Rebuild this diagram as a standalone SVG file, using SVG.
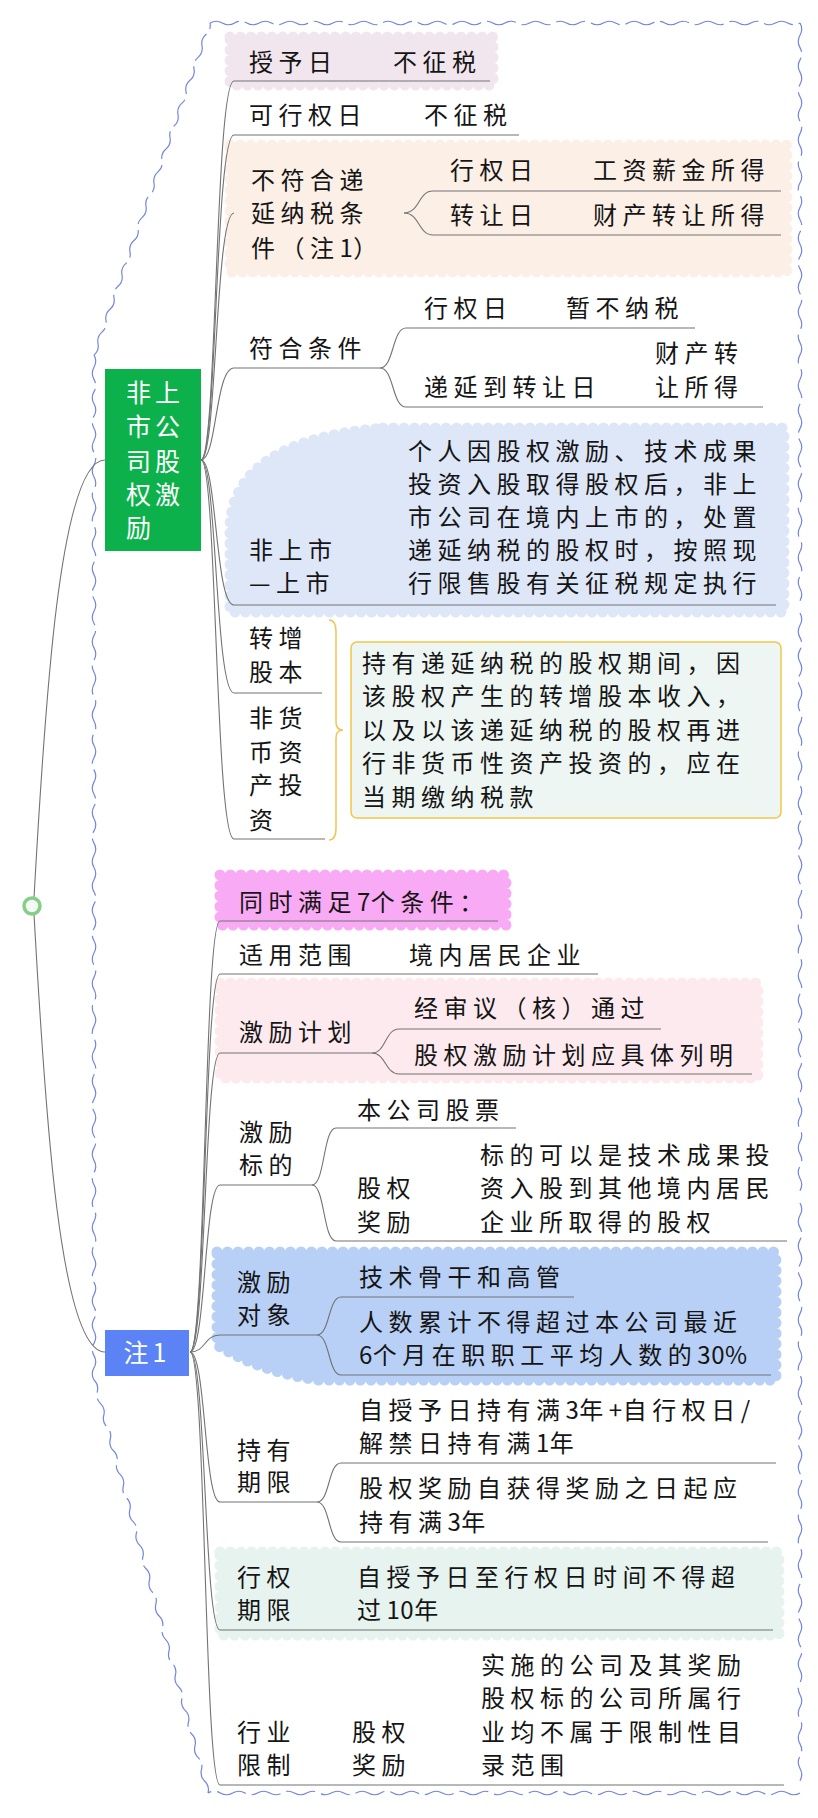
<svg xmlns="http://www.w3.org/2000/svg" width="818" height="1818" viewBox="0 0 818 1818">
<style>
.t{font-family:"Noto Sans CJK SC","Noto Sans",sans-serif;font-size:24px;letter-spacing:5.5px;fill:#151515}
.w{font-family:"Noto Sans CJK SC","Noto Sans",sans-serif;font-size:25px;letter-spacing:4px;fill:#ffffff}
.d{letter-spacing:0.5px}
.c{fill:none;stroke:#737373;stroke-width:1.1}
.sc{stroke-width:11;stroke-dasharray:0 10.5;stroke-linecap:round;stroke-linejoin:round}
.bd{fill:none;stroke:#7385e0;stroke-width:1.2;stroke-dasharray:30 6}
</style>
<rect width="818" height="1818" fill="#ffffff"/>
<g id="border">
<path class="bd" d="M94,355 q5.30,-4.57 4,-11.448t4,-11.448t4,-11.448t4,-11.448t4,-11.448t4,-11.448t4,-11.448t4,-11.448t4,-11.448t4,-11.448t4,-11.448t4,-11.448t4,-11.448t4,-11.448t4,-11.448t4,-11.448t4,-11.448t4,-11.448t4,-11.448t4,-11.448t4,-11.448t4,-11.448t4,-11.448t4,-11.448t4,-11.448t4,-11.448t4,-11.448t4,-11.448t4,-11.448"/>
<path class="bd" d="M210,23 q6.146,-3.5 12.292,0t12.292,0t12.292,0t12.292,0t12.292,0t12.292,0t12.292,0t12.292,0t12.292,0t12.292,0t12.292,0t12.292,0t12.292,0t12.292,0t12.292,0t12.292,0t12.292,0t12.292,0t12.292,0t12.292,0t12.292,0t12.292,0t12.292,0t12.292,0t12.292,0t12.292,0t12.292,0t12.292,0t12.292,0t12.292,0t12.292,0t12.292,0t12.292,0t12.292,0t12.292,0t12.292,0t12.292,0t12.292,0t12.292,0t12.292,0t12.292,0t12.292,0t12.292,0t12.292,0t12.292,0t12.292,0t12.292,0t12.292,0"/>
<path class="bd" d="M800,23 q3.5,6.146 0,12.292t0,12.292t0,12.292t0,12.292t0,12.292t0,12.292t0,12.292t0,12.292t0,12.292t0,12.292t0,12.292t0,12.292t0,12.292t0,12.292t0,12.292t0,12.292t0,12.292t0,12.292t0,12.292t0,12.292t0,12.292t0,12.292t0,12.292t0,12.292t0,12.292t0,12.292t0,12.292t0,12.292t0,12.292t0,12.292t0,12.292t0,12.292t0,12.292t0,12.292t0,12.292t0,12.292t0,12.292t0,12.292t0,12.292t0,12.292t0,12.292t0,12.292t0,12.292t0,12.292t0,12.292t0,12.292t0,12.292"/>
<path class="bd" d="M800,613 q3.5,6.146 0,12.292t0,12.292t0,12.292t0,12.292t0,12.292t0,12.292t0,12.292t0,12.292t0,12.292t0,12.292t0,12.292t0,12.292t0,12.292t0,12.292t0,12.292t0,12.292t0,12.292t0,12.292t0,12.292t0,12.292t0,12.292t0,12.292t0,12.292t0,12.292t0,12.292t0,12.292t0,12.292t0,12.292t0,12.292t0,12.292t0,12.292t0,12.292t0,12.292t0,12.292t0,12.292t0,12.292t0,12.292t0,12.292t0,12.292t0,12.292t0,12.292t0,12.292t0,12.292t0,12.292t0,12.292t0,12.292t0,12.292"/>
<path class="bd" d="M800,1203 q3.5,6.146 0,12.292t0,12.292t0,12.292t0,12.292t0,12.292t0,12.292t0,12.292t0,12.292t0,12.292t0,12.292t0,12.292t0,12.292t0,12.292t0,12.292t0,12.292t0,12.292t0,12.292t0,12.292t0,12.292t0,12.292t0,12.292t0,12.292t0,12.292t0,12.292t0,12.292t0,12.292t0,12.292t0,12.292t0,12.292t0,12.292t0,12.292t0,12.292t0,12.292t0,12.292t0,12.292t0,12.292t0,12.292t0,12.292t0,12.292t0,12.292t0,12.292t0,12.292t0,12.292t0,12.292t0,12.292t0,12.292t0,12.292"/>
<path class="bd" d="M800,1793 q-6.167,3.5 -12.333,0t-12.333,0t-12.333,0t-12.333,0t-12.333,0t-12.333,0t-12.333,0t-12.333,0t-12.333,0t-12.333,0t-12.333,0t-12.333,0t-12.333,0t-12.333,0t-12.333,0t-12.333,0t-12.333,0t-12.333,0t-12.333,0t-12.333,0t-12.333,0t-12.333,0t-12.333,0t-12.333,0t-12.333,0t-12.333,0t-12.333,0t-12.333,0t-12.333,0t-12.333,0t-12.333,0t-12.333,0t-12.333,0t-12.333,0t-12.333,0t-12.333,0t-12.333,0t-12.333,0t-12.333,0t-12.333,0t-12.333,0t-12.333,0t-12.333,0t-12.333,0t-12.333,0t-12.333,0t-12.333,0t-12.333,0"/>
<path class="bd" d="M208,1793 q1.745,-6.831 -3.257,-11.8t-3.257,-11.8t-3.257,-11.8t-3.257,-11.8t-3.257,-11.8t-3.257,-11.8t-3.257,-11.8t-3.257,-11.8t-3.257,-11.8t-3.257,-11.8t-3.257,-11.8t-3.257,-11.8t-3.257,-11.8t-3.257,-11.8t-3.257,-11.8t-3.257,-11.8t-3.257,-11.8t-3.257,-11.8t-3.257,-11.8t-3.257,-11.8t-3.257,-11.8t-3.257,-11.8t-3.257,-11.8t-3.257,-11.8t-3.257,-11.8t-3.257,-11.8t-3.257,-11.8t-3.257,-11.8t-3.257,-11.8t-3.257,-11.8t-3.257,-11.8t-3.257,-11.8t-3.257,-11.8t-3.257,-11.8t-3.257,-11.8"/>
<path class="bd" d="M94,1380 q-3.5,-6.101 0,-12.202t0,-12.202t0,-12.202t0,-12.202t0,-12.202t0,-12.202t0,-12.202t0,-12.202t0,-12.202t0,-12.202t0,-12.202t0,-12.202t0,-12.202t0,-12.202t0,-12.202t0,-12.202t0,-12.202t0,-12.202t0,-12.202t0,-12.202t0,-12.202t0,-12.202t0,-12.202t0,-12.202t0,-12.202t0,-12.202t0,-12.202t0,-12.202t0,-12.202t0,-12.202t0,-12.202t0,-12.202t0,-12.202t0,-12.202t0,-12.202t0,-12.202t0,-12.202t0,-12.202t0,-12.202t0,-12.202t0,-12.202t0,-12.202"/>
<path class="bd" d="M94,867.5 q-3.5,-6.101 0,-12.202t0,-12.202t0,-12.202t0,-12.202t0,-12.202t0,-12.202t0,-12.202t0,-12.202t0,-12.202t0,-12.202t0,-12.202t0,-12.202t0,-12.202t0,-12.202t0,-12.202t0,-12.202t0,-12.202t0,-12.202t0,-12.202t0,-12.202t0,-12.202t0,-12.202t0,-12.202t0,-12.202t0,-12.202t0,-12.202t0,-12.202t0,-12.202t0,-12.202t0,-12.202t0,-12.202t0,-12.202t0,-12.202t0,-12.202t0,-12.202t0,-12.202t0,-12.202t0,-12.202t0,-12.202t0,-12.202t0,-12.202t0,-12.202"/>
</g>
<g id="backgrounds">
<rect class="sc" x="230" y="37" width="263" height="48" fill="#f2e6ee" stroke="#f2e6ee"/>
<rect class="sc" x="230" y="145" width="557" height="127" fill="#fcefe6" stroke="#fcefe6"/>
<path class="sc" d="M383,428 L784,428 L784,612 L230,612 L230,525 Q235,440 383,428 Z" fill="#dee7f8" stroke="#dee7f8"/>
<rect class="sc" x="220" y="875" width="286" height="50" fill="#f9aaf4" stroke="#f9aaf4"/>
<rect class="sc" x="220" y="983" width="538" height="95" fill="#fdeaee" stroke="#fdeaee"/>
<path class="sc" d="M217,1252 L776,1252 L776,1380 L318,1380 Q260,1372 217,1345 Z" fill="#b9d0f6" stroke="#b9d0f6"/>
<rect class="sc" x="220" y="1552" width="559" height="83" fill="#e6f3ef" stroke="#e6f3ef"/>
</g>
<g id="connectors" class="c">
<path d="M34,898 C45,700 60,460 105,460"/>
<path d="M34,914 C45,1112 60,1352 105,1352"/>
<path d="M201,460 C217,460 215,81 234,81 H490"/>
<path d="M201,460 C217,460 215,135 234,135 H519"/>
<path d="M201,460 C217,460 215,213 234,213"/>
<path d="M201,460 C217,460 215,368 234,368 H380"/>
<path d="M201,460 C217,460 215,605 234,605 H776"/>
<path d="M201,460 C217,460 215,693 234,693 H322"/>
<path d="M201,460 C217,460 215,839 234,839 H325"/>
<path d="M404,213 C420,213 418,191 433,191 H781"/>
<path d="M404,213 C420,213 418,235 433,235 H781"/>
<path d="M380,368 C394,368 392,328 406,328 H695"/>
<path d="M380,368 C394,368 392,407 406,407 H763"/>
<path d="M190,1352 C206,1352 204,921 220,921 H498"/>
<path d="M190,1352 C206,1352 204,974 220,974 H598"/>
<path d="M190,1352 C206,1352 204,1053 220,1053 H372"/>
<path d="M190,1352 C206,1352 204,1185 220,1185 H312"/>
<path d="M190,1352 C206,1352 204,1335 220,1335 H317"/>
<path d="M190,1352 C206,1352 204,1502 220,1502 H317"/>
<path d="M190,1352 C206,1352 204,1630 220,1630 H773"/>
<path d="M190,1352 C206,1352 204,1785 220,1785 H784"/>
<path d="M372,1053 C386,1053 385,1029 399,1029 H661"/>
<path d="M372,1053 C386,1053 385,1074 399,1074 H752"/>
<path d="M312,1185 C325,1185 323,1128 336,1128 H516"/>
<path d="M312,1185 C325,1185 323,1241 336,1241 H787"/>
<path d="M317,1335 C330,1335 328,1297 341,1297 H574"/>
<path d="M317,1335 C330,1335 328,1375 341,1375 H771"/>
<path d="M317,1502 C330,1502 328,1463 341,1463 H776"/>
<path d="M317,1502 C330,1502 328,1542 341,1542 H768"/>
<path d="M329,620 Q336,620 336,632 L336,722 Q336,730 343,730 Q336,730 336,738 L336,828 Q336,840 329,840" stroke="#f2c451" stroke-width="1.5"/>
</g>
<g id="root">
<circle cx="32" cy="906" r="8" fill="#f4fbf4" stroke="#86cf86" stroke-width="3.5"/>
</g>
<g id="n-feishangshi">
<rect x="105" y="369" width="96" height="182" fill="#0db14b"/>
<text class="w" x="126" y="402">非上</text>
<text class="w" x="126" y="436">市公</text>
<text class="w" x="126" y="471">司股</text>
<text class="w" x="126" y="504">权激</text>
<text class="w" x="126" y="537">励</text>
</g>
<g id="n-shouyu"><text class="t" x="249" y="71">授予日</text><text class="t" x="393" y="71">不征税</text></g>
<g id="n-kexingquan"><text class="t" x="249" y="124">可行权日</text><text class="t" x="424" y="124">不征税</text></g>
<g id="n-bufuhe">
<text class="t" x="251" y="189">不符合递</text>
<text class="t" x="251" y="222">延纳税条</text>
<text class="t" x="251" y="257">件（注<tspan class="d">1</tspan>）</text>
</g>
<g id="n-bf-xingquan"><text class="t" x="450" y="179">行权日</text><text class="t" x="593" y="179">工资薪金所得</text></g>
<g id="n-bf-zhuanrang"><text class="t" x="450" y="224">转让日</text><text class="t" x="593" y="224">财产转让所得</text></g>
<g id="n-fuhe"><text class="t" x="249" y="357">符合条件</text></g>
<g id="n-fh-xingquan"><text class="t" x="424" y="317">行权日</text><text class="t" x="566" y="317">暂不纳税</text></g>
<g id="n-fh-diyan"><text class="t" x="424" y="396">递延到转让日</text><text class="t" x="655" y="362">财产转</text><text class="t" x="655" y="396">让所得</text></g>
<g id="n-shangshi">
<text class="t" x="249" y="559">非上市</text>
<text class="t" x="249" y="592">—上市</text>
<text class="t" x="408" y="460">个人因股权激励、技术成果</text>
<text class="t" x="408" y="493">投资入股取得股权后，非上</text>
<text class="t" x="408" y="526">市公司在境内上市的，处置</text>
<text class="t" x="408" y="559">递延纳税的股权时，按照现</text>
<text class="t" x="408" y="592">行限售股有关征税规定执行</text>
</g>
<g id="n-zhuanzeng"><text class="t" x="249" y="647">转增</text><text class="t" x="249" y="681">股本</text></g>
<g id="n-feihuobi"><text class="t" x="249" y="727">非货</text><text class="t" x="249" y="761">币资</text><text class="t" x="249" y="794">产投</text><text class="t" x="249" y="829">资</text></g>
<g id="n-summary">
<rect x="351" y="642" width="430" height="176" rx="6" fill="#eef6f3" stroke="#f4c545" stroke-width="1.5"/>
<text class="t" x="362" y="672">持有递延纳税的股权期间，因</text>
<text class="t" x="362" y="705">该股权产生的转增股本收入，</text>
<text class="t" x="362" y="739">以及以该递延纳税的股权再进</text>
<text class="t" x="362" y="772">行非货币性资产投资的，应在</text>
<text class="t" x="362" y="806">当期缴纳税款</text>
</g>
<g id="n-zhu1">
<rect x="105" y="1330" width="84" height="46" fill="#5b83f6"/>
<text class="w" x="147" y="1362" text-anchor="middle" letter-spacing="2">注1</text>
</g>
<g id="n-tongshi"><text class="t" x="239" y="911">同时满足<tspan class="d">7</tspan>个条件：</text></g>
<g id="n-shiyong"><text class="t" x="239" y="964">适用范围</text><text class="t" x="409" y="964">境内居民企业</text></g>
<g id="n-jilijihua">
<text class="t" x="239" y="1041">激励计划</text>
<text class="t" x="414" y="1017">经审议（核）通过</text>
<text class="t" x="414" y="1064">股权激励计划应具体列明</text>
</g>
<g id="n-biaode">
<text class="t" x="239" y="1141">激励</text><text class="t" x="239" y="1174">标的</text>
<text class="t" x="357" y="1119">本公司股票</text>
<text class="t" x="357" y="1197">股权</text><text class="t" x="357" y="1231">奖励</text>
<text class="t" x="480" y="1164">标的可以是技术成果投</text>
<text class="t" x="480" y="1197">资入股到其他境内居民</text>
<text class="t" x="480" y="1231">企业所取得的股权</text>
</g>
<g id="n-duixiang">
<text class="t" x="237" y="1291">激励</text><text class="t" x="237" y="1324">对象</text>
<text class="t" x="359" y="1286">技术骨干和高管</text>
<text class="t" x="359" y="1331">人数累计不得超过本公司最近</text>
<text class="t" x="359" y="1364"><tspan class="d">6</tspan>个月在职职工平均人数的<tspan class="d">30%</tspan></text>
</g>
<g id="n-chiyou">
<text class="t" x="237" y="1459">持有</text><text class="t" x="237" y="1491">期限</text>
<text class="t" x="359" y="1419">自授予日持有满<tspan class="d">3</tspan>年<tspan class="d">+</tspan>自行权日<tspan class="d">/</tspan></text>
<text class="t" x="359" y="1452">解禁日持有满<tspan class="d">1</tspan>年</text>
<text class="t" x="359" y="1497">股权奖励自获得奖励之日起应</text>
<text class="t" x="359" y="1531">持有满<tspan class="d">3</tspan>年</text>
</g>
<g id="n-xingquanqixian">
<text class="t" x="237" y="1586">行权</text><text class="t" x="237" y="1619">期限</text>
<text class="t" x="357" y="1586">自授予日至行权日时间不得超</text>
<text class="t" x="357" y="1619">过<tspan class="d">10</tspan>年</text>
</g>
<g id="n-hangye">
<text class="t" x="237" y="1741">行业</text><text class="t" x="237" y="1774">限制</text>
<text class="t" x="352" y="1741">股权</text><text class="t" x="352" y="1774">奖励</text>
<text class="t" x="481" y="1674">实施的公司及其奖励</text>
<text class="t" x="481" y="1707">股权标的公司所属行</text>
<text class="t" x="481" y="1741">业均不属于限制性目</text>
<text class="t" x="481" y="1774">录范围</text>
</g>
</svg>
